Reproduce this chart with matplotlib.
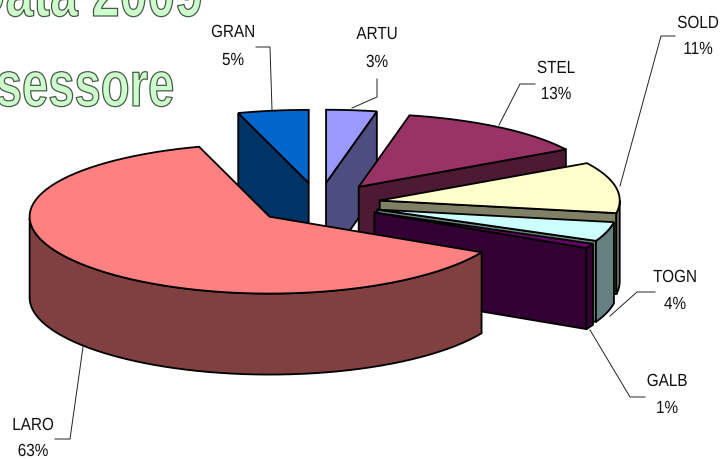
#!/usr/bin/env python3
import numpy as np
import matplotlib
matplotlib.use("Agg")
import matplotlib.pyplot as plt
import matplotlib.patheffects as pe
from matplotlib.patches import Polygon
from matplotlib.transforms import Affine2D

# slices, clockwise from 12 o'clock
names = ["ARTU", "STEL", "SOLD", "TOGN", "GALB", "LARO", "GRAN"]
values = [3.4, 13.2, 11.1, 4.1, 1.0, 62.55, 4.75]
explode = [0.283, 0.283, 0.258, 0.255, 0.258, 0.266, 0.283]
top_colors = ["#9999FF", "#993366", "#FFFFCC", "#CCFFFF", "#660066", "#FF8080", "#0066CC"]
side_colors = ["#4D4D80", "#4D1933", "#808066", "#668080", "#330033", "#804040", "#003366"]

# label centre x, name baseline, percent baseline
label_pos = [(377, 39, 67), (556, 73, 99), (698, 28, 54), (675, 282, 309),
             (667, 386, 413), (33, 430, 456), (233, 37, 65)]
leaders = [
    [(377, 79), (377, 97), (352, 108)],
    [(535, 84), (520, 84), (499, 125)],
    [(675, 36), (661, 36), (620, 186)],
    [(655, 292), (637, 292), (610, 316)],
    [(645, 397), (630, 397), (590, 330)],
    [(55, 439), (70, 439), (83, 347)],
    [(256, 47), (270, 47), (272, 110)],
]

# projected pie geometry, in pixels
CX, CY = 318.8, 204.0
RX, RY = 240.0, 75.0
PERSP = 0.025
DEPTH = 81.0
EDGE = 1.3
HEIGHT = 459


class TallText(pe.AbstractPathEffect):
    """Stretch text upwards from its baseline, the original font is condensed."""

    def __init__(self, baseline, sy, edge=None, lw=0):
        self.base = HEIGHT - baseline
        self.sy = sy
        self.edge = edge
        self.lw = lw

    def draw_path(self, renderer, gc, tpath, affine, rgbFace=None):
        tall = affine + Affine2D().translate(0, -self.base).scale(1, self.sy).translate(0, self.base)
        gc0 = renderer.new_gc()
        gc0.copy_properties(gc)
        if self.edge:
            gc0.set_foreground(self.edge)
            gc0.set_linewidth(self.lw)
        renderer.draw_path(gc0, tpath, tall, rgbFace)
        gc0.restore()


def wall(ax, xs, ys, color, z):
    poly = np.column_stack([np.r_[xs, xs[::-1]], np.r_[ys, ys[::-1] + DEPTH]])
    ax.add_patch(Polygon(poly, closed=True, fc=color, ec="black", lw=EDGE, zorder=z))


def draw_slice(ax, start, end, exp, top, side, z):
    mid = (start + end) / 2
    ax0 = CX + exp * RX * np.sin(mid)
    ay0 = CY - exp * RY * np.cos(mid)
    th = np.linspace(start, end, 80)
    xs = ax0 + RX * np.sin(th)
    ys = ay0 - RY * np.cos(th) * (1 - PERSP * np.cos(th))

    # radial walls only show when they run right to left on screen
    if xs[0] < ax0:
        wall(ax, np.array([ax0, xs[0]]), np.array([ay0, ys[0]]), side, z)
    if xs[-1] > ax0:
        wall(ax, np.array([xs[-1], ax0]), np.array([ys[-1], ay0]), side, z)
    # outer wall, lower half of the ellipse
    front = np.cos(th) <= 0
    if front.sum() > 1:
        wall(ax, xs[front], ys[front], side, z)

    outline = np.column_stack([np.r_[ax0, xs], np.r_[ay0, ys]])
    ax.add_patch(Polygon(outline, closed=True, fc=top, ec="black", lw=EDGE, zorder=z))


def main():
    fig = plt.figure(figsize=(7.25, 4.59), dpi=100)
    ax = fig.add_axes([0, 0, 1, 1])
    ax.set_xlim(0, 725)
    ax.set_ylim(459, 0)
    ax.axis("off")

    # title is cut off by the picture edge in the original
    for txt, x, y, size in [("Data 2009", 203, 16, 36), ("Assessore", 175, 106, 34)]:
        ax.text(x, y, txt, fontsize=size, fontweight="bold", family="Liberation Sans",
                color="#CCFFCC", ha="right", va="baseline", zorder=1,
                path_effects=[TallText(y, 1.35, edge="#4A5A4A", lw=0.9)])

    for pts in leaders:
        px, py = zip(*pts)
        ax.plot(px, py, color="#222222", lw=0.7, zorder=2)

    fracs = np.array(values) / sum(values)
    edges = np.r_[0, np.cumsum(fracs)] * 2 * np.pi
    # back to front
    for z, i in enumerate([0, 6, 1, 2, 3, 4, 5]):
        draw_slice(ax, edges[i], edges[i + 1], explode[i], top_colors[i], side_colors[i], 3 + z)

    for name, val, (x, y1, y2) in zip(names, values, label_pos):
        for s, y in [(name, y1), (f"{round(val)}%", y2)]:
            ax.text(x, y, s, ha="center", va="baseline", fontsize=11, color="#111111",
                    family="Liberation Sans", zorder=20, path_effects=[TallText(y, 1.15)])

    fig.savefig("out.png", dpi=100)


if __name__ == "__main__":
    main()
